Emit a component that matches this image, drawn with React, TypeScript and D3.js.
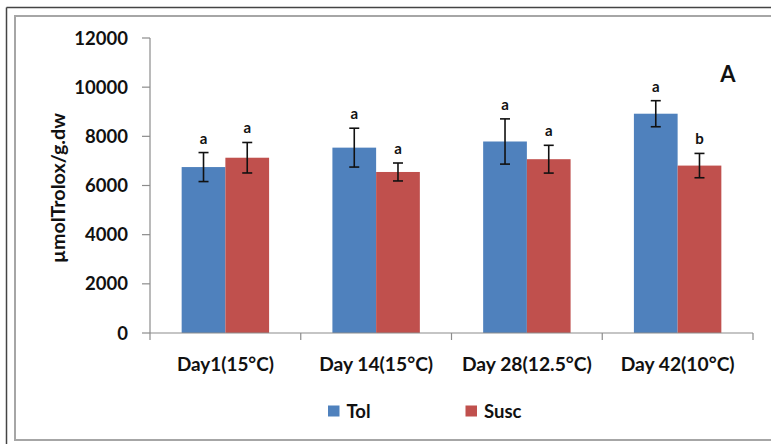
import React from 'react';
import * as d3 from 'd3';

const categories = ['Day1(15°C)', 'Day 14(15°C)', 'Day 28(12.5°C)', 'Day 42(10°C)'];
const categoryWidths = [97, 114, 130, 114];
const seriesNames = ['Tol', 'Susc'];
const tolValues = [6750, 7540, 7790, 8920];
const tolErrors = [590, 790, 920, 530];
const tolLetters = ['a', 'a', 'a', 'a'];
const suscValues = [7130, 6550, 7070, 6810];
const suscErrors = [620, 365, 565, 495];
const suscLetters = ['a', 'a', 'a', 'b'];
const yTicks = [0, 2000, 4000, 6000, 8000, 10000, 12000];

const colors = ['#4F81BD', '#C0504D'];
const font = 'Lato, "Open Sans", sans-serif';

export default function App() {
  const width = 771, height = 444;
  const x0 = 150, x1 = 753, yTop = 38, yBottom = 333;

  const x = d3.scaleBand().domain(categories).range([x0, x1]).paddingInner(0.42).paddingOuter(0.21);
  const inner = d3.scaleBand().domain(seriesNames).range([0, x.bandwidth()]);
  const y = d3.scaleLinear().domain([0, 12000]).range([yBottom, yTop]);

  const series = [
    { name: 'Tol', values: tolValues, errors: tolErrors, letters: tolLetters },
    { name: 'Susc', values: suscValues, errors: suscErrors, letters: suscLetters },
  ];

  // tick boundaries between categories
  const step = (x1 - x0) / categories.length;
  const xTicks = d3.range(0, categories.length + 1).map((i) => x0 + i * step);

  return (
    <div style={{ position: 'fixed', left: 0, top: 0 }}>
      <svg width={width} height={height} style={{ display: 'block', background: '#fff' }}>
        {/* frames */}
        <line x1={6.5} y1={7.5} x2={771} y2={7.5} stroke="#444" strokeWidth={1.5} />
        <line x1={6.5} y1={7.5} x2={6.5} y2={444} stroke="#444" strokeWidth={1.5} />
        <path d="M771,16 H15 V440 H771" fill="none" stroke="#a6a6a6" strokeWidth={2} />

        {/* y axis */}
        <line x1={x0} y1={yTop} x2={x0} y2={yBottom} stroke="#8c8c8c" strokeWidth={1.2} />
        {yTicks.map((t) => (
          <g key={t}>
            <line x1={x0 - 8} x2={x0} y1={y(t)} y2={y(t)} stroke="#8c8c8c" strokeWidth={1.2} />
            <text x={128} y={y(t)} dy="0.36em" textAnchor="end" fontFamily={font} fontWeight="bold" fontSize={18.5} fill="#111">
              {t}
            </text>
          </g>
        ))}
        <text
          transform={`translate(65,188) rotate(-90)`}
          textAnchor="middle"
          fontFamily={font}
          fontWeight="bold"
          fontSize={18}
          textLength={150}
          lengthAdjust="spacingAndGlyphs"
          fill="#111"
        >
          µmolTrolox/g.dw
        </text>

        {/* bars */}
        {series.map((s, si) =>
          categories.map((c, ci) => {
            const bx = (x(c) as number) + (inner(s.name) as number);
            const bw = inner.bandwidth();
            const cx = bx + bw / 2;
            const v = s.values[ci];
            const e = s.errors[ci];
            return (
              <g key={s.name + c}>
                <rect x={bx} y={y(v)} width={bw} height={yBottom - y(v)} fill={colors[si]} />
                <line x1={cx} x2={cx} y1={y(v + e)} y2={y(v - e)} stroke="#111" strokeWidth={1.6} />
                <line x1={cx - 5} x2={cx + 5} y1={y(v + e)} y2={y(v + e)} stroke="#111" strokeWidth={1.6} />
                <line x1={cx - 5} x2={cx + 5} y1={y(v - e)} y2={y(v - e)} stroke="#111" strokeWidth={1.6} />
                <text x={cx} y={y(v + e) - 9} textAnchor="middle" fontFamily={font} fontWeight="bold" fontSize={15} fill="#111">
                  {s.letters[ci]}
                </text>
              </g>
            );
          })
        )}

        {/* x axis */}
        <line x1={x0} x2={x1} y1={yBottom} y2={yBottom} stroke="#8c8c8c" strokeWidth={1.2} />
        {xTicks.map((t, i) => (
          <line key={i} x1={t} x2={t} y1={yBottom} y2={yBottom + 7} stroke="#8c8c8c" strokeWidth={1.2} />
        ))}
        {categories.map((c, i) => (
          <text
            key={c}
            x={(x(c) as number) + x.bandwidth() / 2}
            y={364}
            dy="0.36em"
            textAnchor="middle"
            fontFamily={font}
            fontWeight="bold"
            fontSize={19}
            textLength={categoryWidths[i]}
            lengthAdjust="spacingAndGlyphs"
            fill="#111"
          >
            {c}
          </text>
        ))}

        {/* panel letter */}
        <text x={728} y={74} dy="0.36em" textAnchor="middle" fontFamily={font} fontWeight="bold" fontSize={22} fill="#111">
          A
        </text>

        {/* legend */}
        {seriesNames.map((n, i) => {
          const lx = i === 0 ? 328 : 465.5;
          return (
            <g key={n}>
              <rect x={lx} y={405.5} width={11.5} height={11} fill={colors[i]} />
              <text x={lx + 18.5} y={411} dy="0.36em" fontFamily={font} fontWeight="bold" fontSize={18.5} fill="#111">
                {n}
              </text>
            </g>
          );
        })}
      </svg>
    </div>
  );
}
